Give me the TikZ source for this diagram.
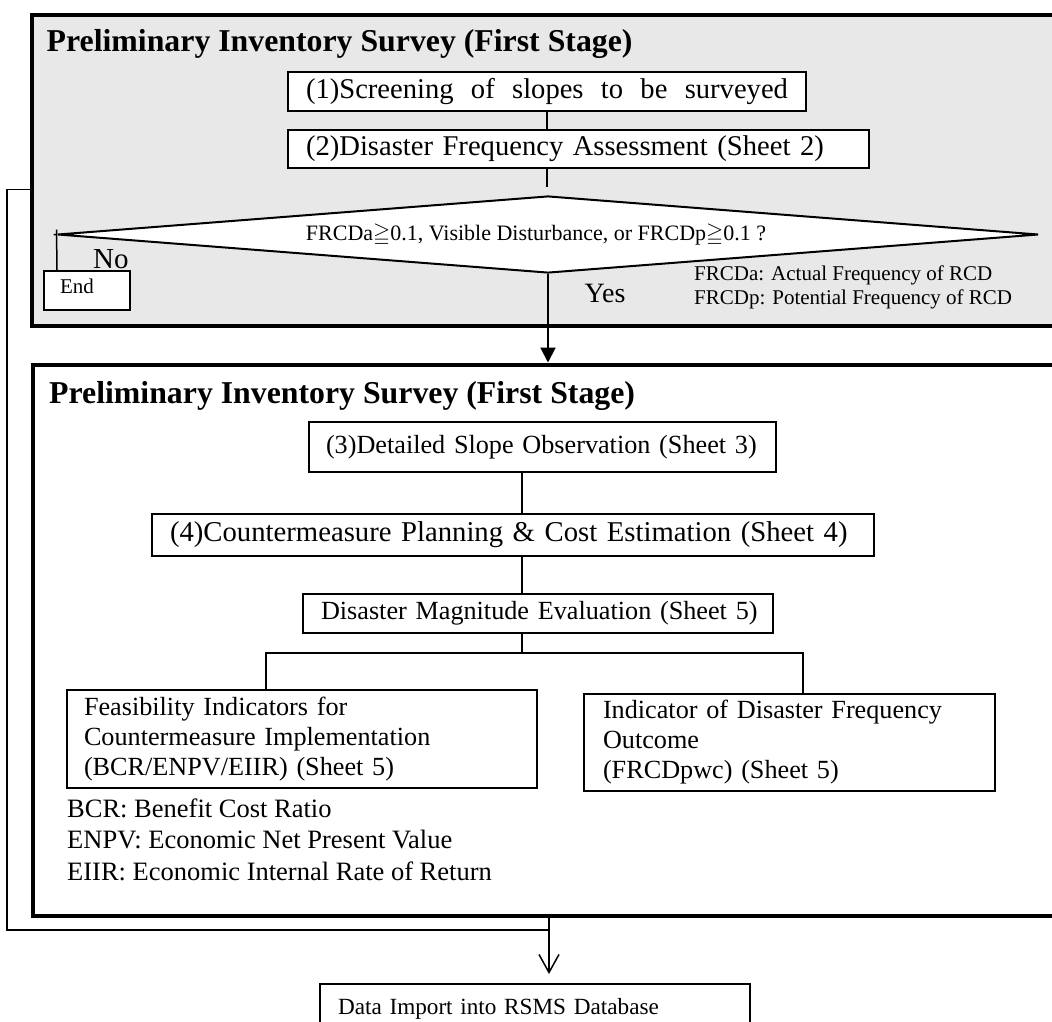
\documentclass[tikz,border=0pt]{standalone}
\usepackage{fontspec}
\setmainfont{Liberation Serif}
\usepackage{amssymb}
\usetikzlibrary{shapes.geometric,arrows.meta}

\tikzset{
  frame/.style={draw, line width=4pt, anchor=north west, inner sep=0pt},
  box/.style={draw, line width=2pt, fill=white, anchor=north west, inner ysep=0pt, align=left},
  link/.style={line width=2pt},
  thinlink/.style={line width=1.5pt},
  heading/.style={anchor=base west, inner sep=0pt, font=\bfseries\fontsize{31.8}{38}\selectfont},
}

\begin{document}
\begin{tikzpicture}[x=1pt,y=-1pt]
\useasboundingbox (0,0) rectangle (1052,1021);

% the two stage frames
\node[frame, fill=black!9, minimum width=1041pt, minimum height=311pt] (first) at (29.5,12.5) {};
\node[frame, minimum width=1039pt, minimum height=551.5pt] (second) at (31,362.5) {};

% first stage
\node[heading] (title1) at (46.5,51) {Preliminary Inventory Survey (First Stage)};
\node[box, minimum height=39pt, text width=482pt, inner xsep=18pt, font=\fontsize{28.6}{34}\selectfont] (screen) at (287,71)
  {\makebox[482pt][l]{(1)Screening\hfill of\hfill slopes\hfill to\hfill be\hfill surveyed}};
\node[box, minimum height=38pt, text width=545pt, inner xsep=18pt, font=\fontsize{28.6}{34}\selectfont] (freq) at (287,129)
  {\mbox{(2)Disaster Frequency Assessment (Sheet 2)}};
\node[diamond, draw, line width=2pt, fill=white, aspect=12.7, minimum width=981pt, minimum height=77pt, inner sep=0pt,
  font=\fontsize{22}{26}\selectfont] (check) at (548,234.5)
  {FRCDa$\geqq$0.1, Visible Disturbance, or FRCDp$\geqq$0.1 ?\hspace*{24pt}};
\node[box, minimum height=39pt, text width=54pt, inner xsep=16pt, text depth=9.5pt, font=\fontsize{21}{25}\selectfont] (stop) at (43,270) {End};
\node[anchor=base west, inner sep=0pt, font=\fontsize{29}{35}\selectfont] (no) at (93,268) {No};
\node[anchor=base west, inner sep=0pt, font=\fontsize{28}{34}\selectfont] (yes) at (584.5,302) {Yes};
\foreach \y/\txt [count=\i] in {280/FRCDa: Actual Frequency of RCD, 304/FRCDp: Potential Frequency of RCD}
{
    \node[anchor=base west, inner sep=0pt, font=\fontsize{21}{25}\selectfont] (key\i) at (694,\y) {\txt};
}

\draw[link] (screen.south) -- (screen.south |- freq.north);
\draw[link, shorten >=8pt] (screen.south |- freq.south) -- (screen.south |- check.north);
\draw[thinlink] ([xshift=-3pt]check.west) -- (check.west) ([yshift=5pt]check.west) -- ([xshift=14pt]stop.north west);
\draw[link, -{Triangle[length=15pt,width=15pt]}] (check.south) -- (check.south |- second.north);

% second stage
\node[heading] (title2) at (49,403) {Preliminary Inventory Survey (First Stage)};
\node[box, minimum height=50pt, text width=433pt, inner xsep=17pt, font=\fontsize{26.2}{32}\selectfont] (observe) at (308,421)
  {\mbox{(3)Detailed Slope Observation (Sheet 3)}};
\node[box, minimum height=42pt, text width=686pt, inner xsep=18pt, font=\fontsize{28.7}{35}\selectfont] (plan) at (151,513)
  {\mbox{(4)Countermeasure Planning \& Cost Estimation (Sheet 4)}};
\node[box, minimum height=39pt, text width=434pt, inner xsep=18pt, font=\fontsize{26.2}{32}\selectfont] (magnitude) at (302,593)
  {\mbox{Disaster Magnitude Evaluation (Sheet 5)}};
\node[box, minimum height=98pt, text width=436pt, inner xsep=17pt, font=\fontsize{26.2}{30}\selectfont] (feasible) at (66,689)
  {Feasibility Indicators for\\Countermeasure Implementation\\(BCR/ENPV/EIIR) (Sheet 5)};
\node[box, minimum height=97pt, text width=373pt, inner xsep=19pt, font=\fontsize{26.2}{30}\selectfont] (outcome) at (583,693)
  {Indicator of Disaster Frequency\\Outcome\\(FRCDpwc) (Sheet 5)};
\foreach \y/\txt [count=\i] in {817/BCR: Benefit Cost Ratio, 848/ENPV: Economic Net Present Value, 880/EIIR: Economic Internal Rate of Return}
{
    \node[anchor=base west, inner sep=0pt, font=\fontsize{26.5}{32}\selectfont] (abbr\i) at (67,\y) {\txt};
}

\coordinate (spine) at (521.5,0);
\coordinate (forkl) at (266,653);
\coordinate (forkr) at (803,653);
\draw[link] (observe.south -| spine) -- (plan.north -| spine);
\draw[link] (plan.south -| spine) -- (magnitude.north -| spine);
\draw[link] (magnitude.south -| spine) -- (forkl -| spine);
\draw[link] (forkl |- feasible.north) -- (forkl) -- (forkr) -- (forkr |- outcome.north);

% way out to the database
\node[box, minimum height=57pt, text width=394pt, inner xsep=18pt, text depth=11.6pt, font=\fontsize{23.2}{28}\selectfont] (import) at (319,983)
  {Data Import into RSMS Database};
\coordinate (join) at (549,930);
\draw[thinlink] ([yshift=-19.5pt]first.west) -- ++(-22.5,0) |- (join);
\draw[thinlink, shorten >=9pt, -{Straight Barb[length=18pt,width=20pt]}] (second.south -| join) -- (import.north -| join);
\end{tikzpicture}
\end{document}
